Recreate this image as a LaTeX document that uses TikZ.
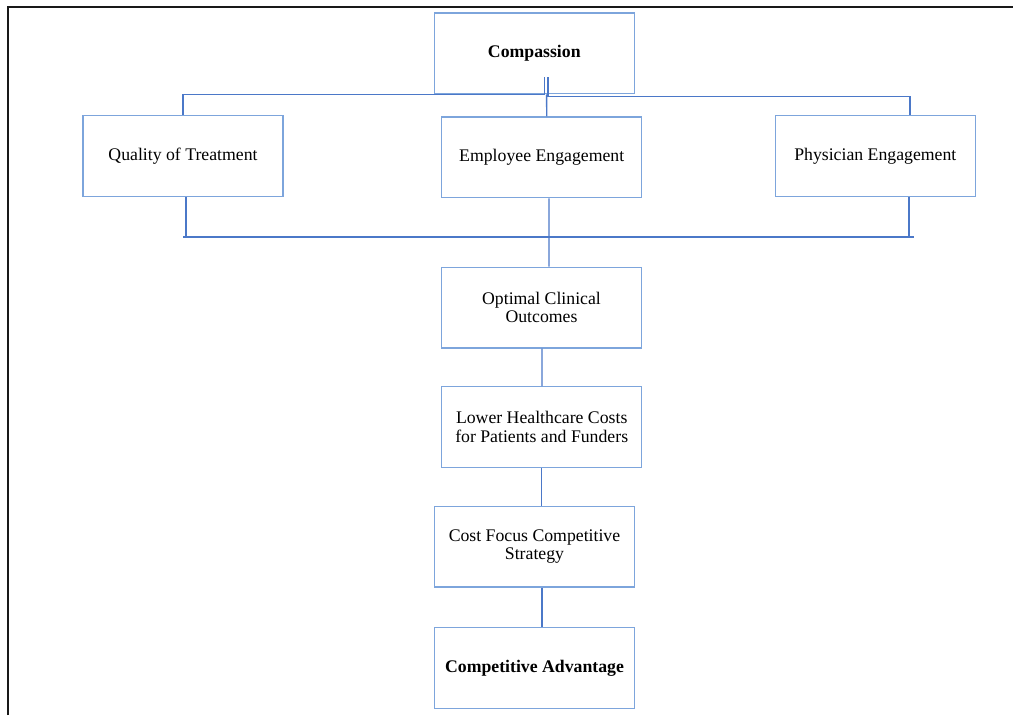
\documentclass[tikz,border=0pt]{standalone}
\usepackage{fontspec}
\setmainfont{Liberation Serif}
\usetikzlibrary{calc}
\definecolor{boxblue}{RGB}{125,165,220}
\definecolor{linkblue}{RGB}{75,120,200}
\begin{document}
\begin{tikzpicture}[x=0.75pt,y=-0.75pt,
  box/.style={draw=boxblue, line width=1pt, minimum width=150pt,
    minimum height=60.5pt, inner sep=0pt, align=center,
    font=\fontsize{13.3}{13.8}\selectfont},
  conn/.style={draw=linkblue, line width=1pt}]
\useasboundingbox (0,0) rectangle (1013,715);
% page frame
\draw[line width=1.6pt, black!90] (8,715) -- (8,7) -- (1013,7);

% boxes
\node[box] (comp)  at (534.3,53.3)  {\textbf{Compassion}};
\node[box] (qual)  at (183,156)     {Quality of Treatment};
\node[box] (emp)   at (541.7,157.3) {Employee Engagement};
\node[box] (phys)  at (875.3,156)   {Physician Engagement};
\node[box] (opt)   at (541.5,307.5) {Optimal Clinical\\Outcomes};
\node[box] (lower) at (541.7,427)   {Lower Healthcare Costs\\for Patients and Funders};
\node[box] (cost)  at (534.5,546.7) {Cost Focus Competitive\\Strategy};
\node[box] (adv)   at (534.5,668)   {\textbf{Competitive Advantage}};

% top tree
\draw[conn] ($(comp.south)+(10.5,-17)$) -- ($(comp.south)+(10.5,0)$) -| (qual.north);
\draw[conn] ($(comp.south)+(13.7,-17)$) -- ($(comp.south)+(13.7,2)$) -| ($(phys.north)+(34.7,0)$);
\draw[conn] ($(comp.south)+(12.3,0)$) -- ($(emp.north)+(5,0)$);

% joining bus
\coordinate (busL) at ($(qual.south)+(0,40)$);
\coordinate (busR) at ($(phys.south)+(38.7,40)$);
\draw[conn] (busL) -- (busR);
\draw[conn] ($(qual.south)+(3,0)$) -- ($(qual.south)+(3,40)$);
\draw[conn] ($(phys.south)+(33.7,0)$) -- ($(phys.south)+(33.7,40)$);
\draw[conn] ($(emp.south)+(7.3,0)$) -- ($(opt.north)+(7.5,0)$);

% chain
\draw[conn] ($(opt.south)+(0.5,0)$) -- ($(lower.north)+(0.3,0)$);
\draw[conn] (lower.south) -- ($(cost.north)+(7.2,0)$);
\draw[conn] ($(cost.south)+(7.5,0)$) -- ($(adv.north)+(7.5,0)$);
\end{tikzpicture}
\end{document}
